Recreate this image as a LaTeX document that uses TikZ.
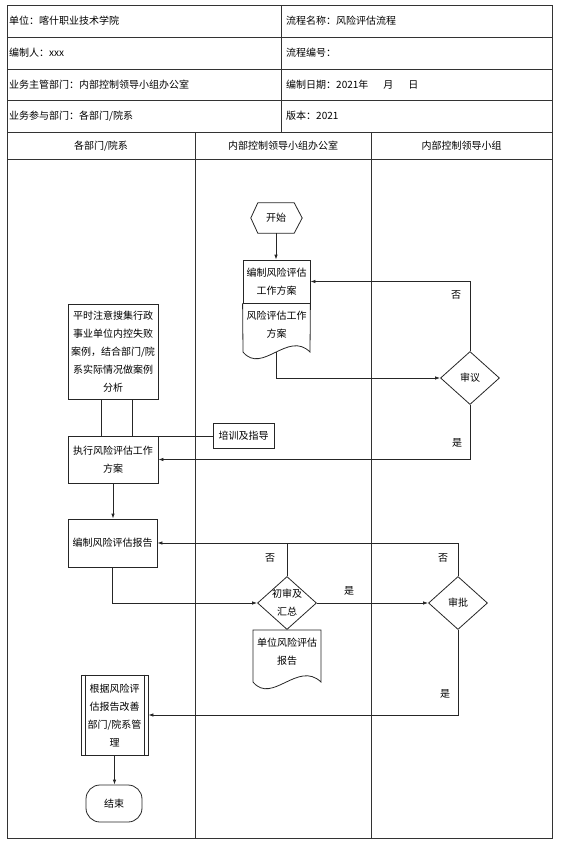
\documentclass[tikz,border=0pt]{standalone}
\usepackage{fontspec}
\setmainfont{Noto Sans CJK SC}
\usepackage{tikz}
\usetikzlibrary{shapes,arrows.meta,calc}
\usetikzlibrary{positioning}

\tikzset{
  frame/.style={draw=black!80, line width=0.8pt},
  flowline/.style={draw=black!85, line width=0.8pt},
  proc/.style={draw=black!85, line width=0.8pt, align=center, inner sep=0pt, font=\fontsize{10}{18}\selectfont},
  decision/.style={diamond, draw=black!85, line width=0.8pt, inner sep=0pt, minimum width=59pt, minimum height=53pt, align=center, font=\fontsize{10}{18}\selectfont},
  cell/.style={anchor=west, inner sep=0pt, font=\fontsize{10}{12}\selectfont},
  lane/.style={inner sep=0pt, font=\fontsize{10}{12}\selectfont},
  yesno/.style={inner sep=0pt, font=\fontsize{10}{12}\selectfont},
}

\begin{document}
\begin{tikzpicture}[x=1pt,y=-1pt,>={Latex[length=5pt,width=3.5pt]}]
\useasboundingbox (0,0) rectangle (563,844);
% table
\draw[frame] (7,5) rectangle (552,838);
\foreach \y in {37,69,100,132,159} \draw[frame] (7,\y) -- (552,\y);
\draw[frame] (281,5) -- (281,132);
\draw[frame] (195,132) -- (195,838);
\draw[frame] (371,132) -- (371,838);
\node[cell] (unit) at (9,21) {单位：喀什职业技术学院};
\node[cell] (author) at (9,53) {编制人：xxx};
\node[cell] (owner) at (9,84.5) {业务主管部门：内部控制领导小组办公室};
\node[cell] (partner) at (9,116) {业务参与部门：各部门/院系};
\node[cell] (pname) at (286,21) {流程名称：风险评估流程};
\node[cell] (pno) at (286,53) {流程编号：};
\node[cell] (pdate) at (286,84.5) {编制日期：2021年\hspace{1.5em}月\hspace{1.5em}日};
\node[cell] (pver) at (286,116) {版本：2021};
\node[lane] (lanedept) at (101,146) {各部门/院系};
\node[lane] (laneoffice) at (283,146) {内部控制领导小组办公室};
\node[lane] (lanegroup) at (461.5,146) {内部控制领导小组};
% flow
\node[lane, minimum width=36pt, minimum height=30pt] (start) at (276,218) {开始};
\draw[flowline] (start.north west) -- (start.north east) -- ([xshift=8pt]start.east) -- (start.south east) -- (start.south west) -- ([xshift=-7pt]start.west) -- cycle;
\node[proc, minimum width=67pt, minimum height=43pt] (plan) at (276.5,281.5) {编制风险评估\\工作方案};
\node[proc, draw=none] (plandoc) at (276.5,325) {风险评估工作\\方案};
\draw[flowline] (plan.south west) -- (243,352) .. controls (262,375) and (288,330) .. (310,352) -- (plan.south east);
\coordinate (plandocend) at (276.5,352.4);
\node[decision] (review) at (470,378) {审议};
\node[proc, minimum width=90pt, minimum height=95pt] (collect) at (113,351.5) {平时注意搜集行政\\事业单位内控失败\\案例，结合部门/院\\系实际情况做案例\\分析};
\node[proc, minimum width=90pt, minimum height=47pt] (execute) at (113,459.5) {执行风险评估工作\\方案};
\node[proc, minimum width=61pt, minimum height=25pt] (train) at (243.5,436) {培训及指导};
\node[proc, minimum width=89pt, minimum height=48pt] (report) at (112.5,543) {编制风险评估报告};
\node[decision] (check) at (287,603) {};
\node[proc, draw=none] (checktext) at (check) {初审及\\汇总};
\node[decision] (approve) at (458,603) {审批};
\node[proc, draw=none] (reportdoc) at (287,652) {单位风险评估\\报告};
\draw[flowline] (253,630) -- (253,682) .. controls (272,705) and (298,660) .. (321,682) -- (321,630) -- cycle;
\node[proc, minimum width=67pt, minimum height=80pt] (improve) at (114.5,715) {根据风险评\\估报告改善\\部门/院系管\\理};
\draw[flowline] ([xshift=4.5pt]improve.north west) -- ([xshift=4.5pt]improve.south west);
\draw[flowline] ([xshift=-4.5pt]improve.north east) -- ([xshift=-4.5pt]improve.south east);
\node[proc, rounded corners=14pt, minimum width=56pt, minimum height=37pt] (finish) at (114,803.5) {结束};
% connectors
\draw[flowline,->] (start.south) -- (start.south |- plan.north);
\draw[flowline,->] (plandocend) |- (review.west);
\draw[flowline,->] (review.north) |- (plan.east);
\draw[flowline,->] (review.south) |- (execute.east);
\draw[flowline] ([xshift=-12pt]collect.south) -- ([xshift=-12pt]collect.south |- execute.north);
\draw[flowline] ([xshift=19pt]collect.south) -- ([xshift=19pt]collect.south |- execute.north);
\draw[flowline] (train.west) -- (train.west -| execute.east);
\draw[flowline,->] (execute.south) -- (execute.south |- report.north);
\draw[flowline,->] (report.south) |- (check.west);
\draw[flowline,->] (check.north) |- (report.east);
\draw[flowline,->] (check.east) -- (approve.west);
\draw[flowline] (approve.north) |- (check.north |- report.east);
\draw[flowline,->] (approve.south) |- (improve.east);
\draw[flowline,->] (improve.south) -- (improve.south |- finish.north);
% labels
\node[yesno] (reviewno) at (456,295) {否};
\node[yesno] (reviewyes) at (457,443) {是};
\node[yesno] (checkno) at (270,558) {否};
\node[yesno] (checkyes) at (349,591) {是};
\node[yesno] (approveno) at (443,558) {否};
\node[yesno] (approveyes) at (445,694) {是};
\end{tikzpicture}
\end{document}
